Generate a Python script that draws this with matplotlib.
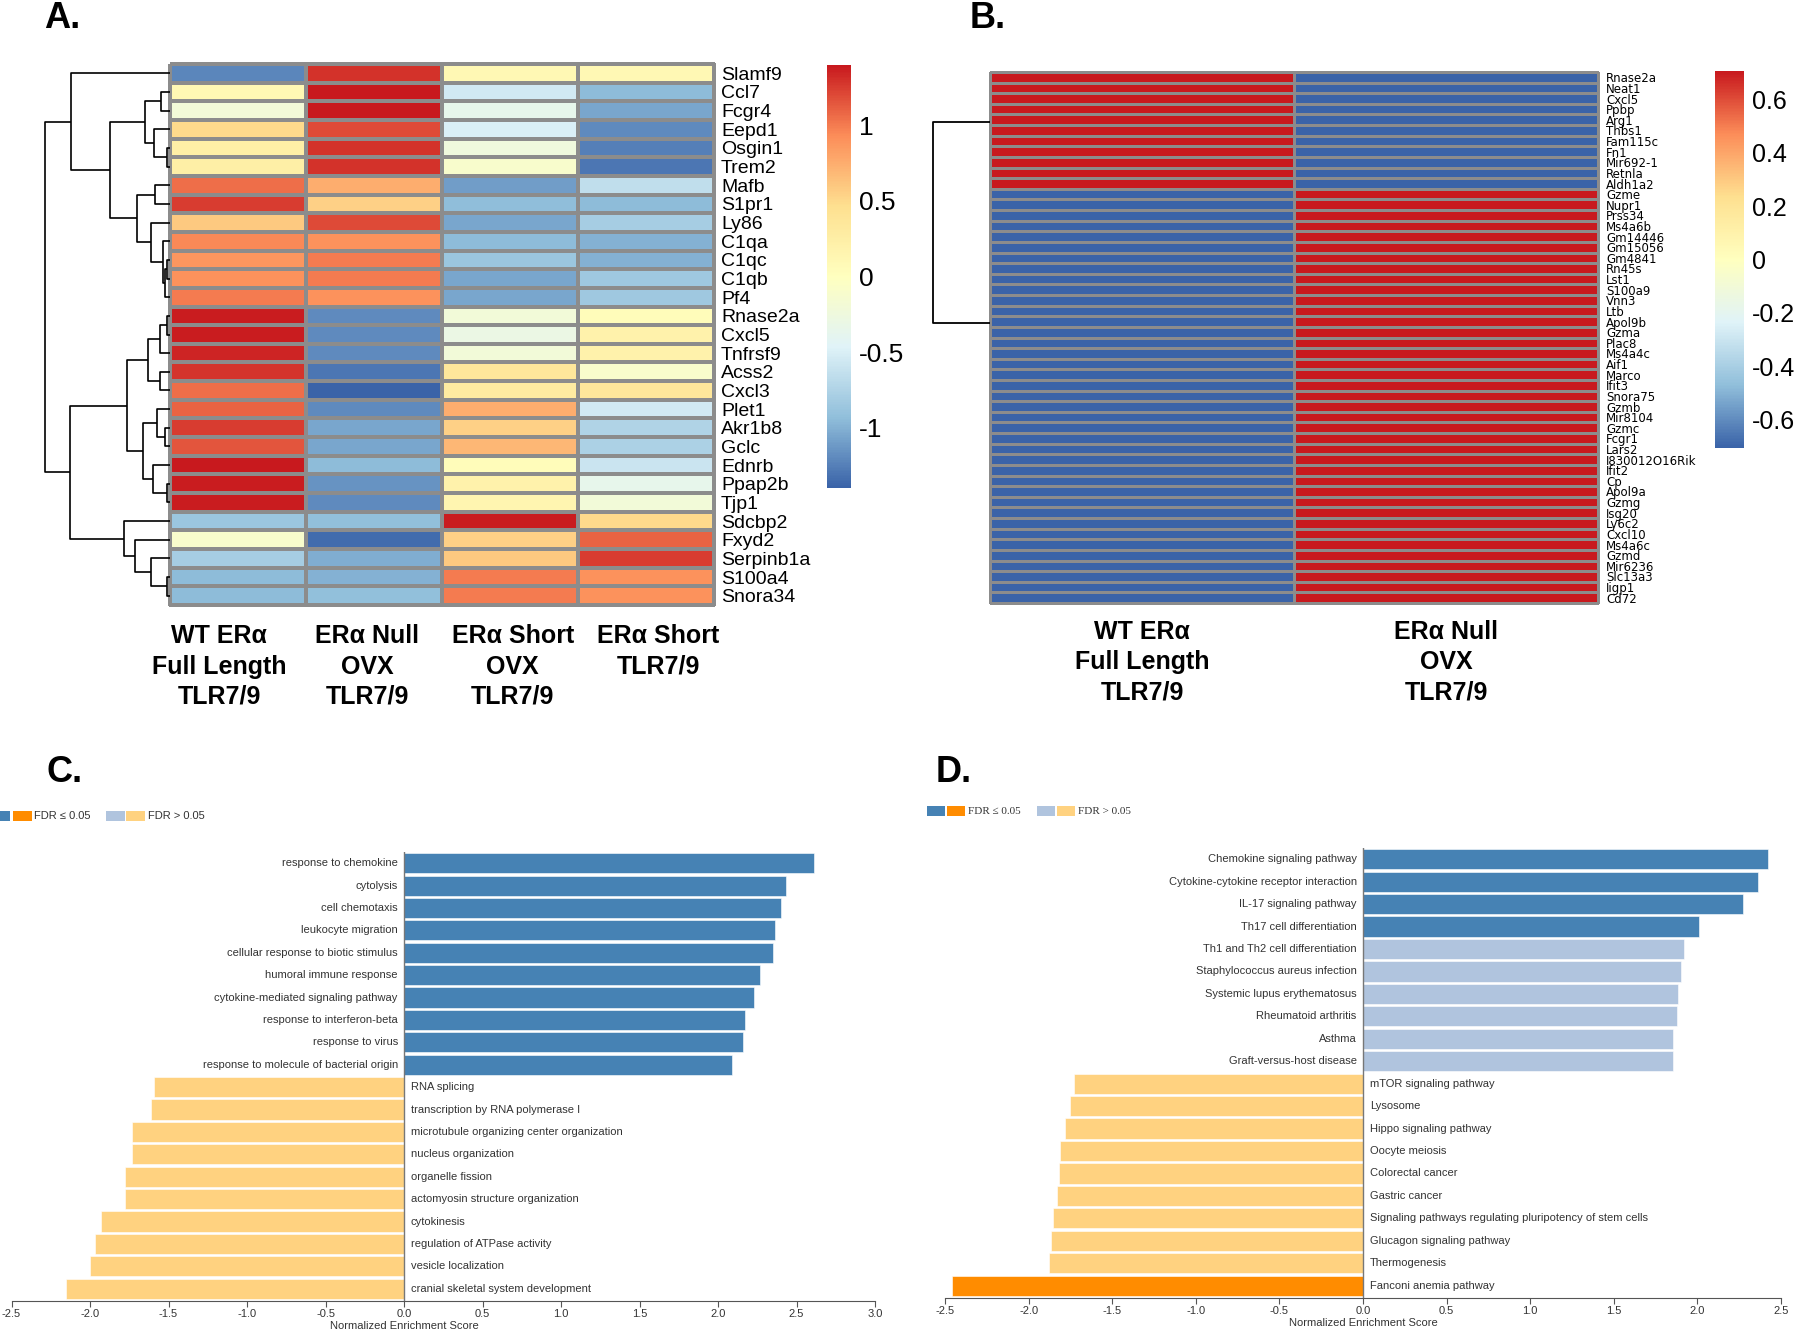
import numpy as np
import matplotlib
matplotlib.use('Agg')
import matplotlib.pyplot as plt
from matplotlib.colors import LinearSegmentedColormap, Normalize
from matplotlib.cm import ScalarMappable
from matplotlib.patches import Rectangle

plt.rcParams['font.family'] = ['Liberation Sans', 'DejaVu Sans']

# ---------------- panel A: row-scaled expression, 4 groups ----------------
genes_a = ['Slamf9', 'Ccl7', 'Fcgr4', 'Eepd1', 'Osgin1', 'Trem2', 'Mafb', 'S1pr1',
           'Ly86', 'C1qa', 'C1qc', 'C1qb', 'Pf4', 'Rnase2a', 'Cxcl5', 'Tnfrsf9',
           'Acss2', 'Cxcl3', 'Plet1', 'Akr1b8', 'Gclc', 'Ednrb', 'Ppap2b', 'Tjp1',
           'Sdcbp2', 'Fxyd2', 'Serpinb1a', 'S100a4', 'Snora34']
groups_a = ['WT ERα\nFull Length\nTLR7/9', 'ERα Null\nOVX\nTLR7/9',
            'ERα Short\nOVX\nTLR7/9', 'ERα Short\nTLR7/9']
wt_a = [-1.22, 0.10, -0.20, 0.50, 0.25, 0.25, 1.05, 1.25, 0.60, 0.95, 0.88, 0.90, 1.00,
        1.38, 1.38, 1.35, 1.28, 1.05, 1.10, 1.25, 1.15, 1.45, 1.38, 1.38,
        -0.87, -0.10, -0.80, -0.95, -0.95]
null_a = [1.30, 1.45, 1.45, 1.20, 1.30, 1.30, 0.75, 0.55, 1.20, 0.90, 1.00, 1.00, 0.90,
          -1.20, -1.20, -1.20, -1.30, -1.45, -1.20, -1.05, -1.05, -0.95, -1.15, -1.20,
          -0.92, -1.35, -1.02, -1.00, -0.92]
sho_a = [0.10, -0.55, -0.35, -0.50, -0.25, -0.10, -1.10, -0.93, -1.05, -0.95, -0.87,
         -1.05, -1.05, -0.20, -0.30, -0.20, 0.35, 0.30, 0.75, 0.55, 0.70, 0.05, 0.20,
         0.15, 1.38, 0.55, 0.60, 1.00, 1.00]
sht_a = [0.10, -0.95, -1.05, -1.20, -1.25, -1.30, -0.65, -0.95, -0.80, -1.00, -1.00,
         -0.85, -0.85, 0.05, 0.20, 0.20, -0.10, 0.35, -0.55, -0.75, -0.77, -0.60,
         -0.35, -0.20, 0.50, 1.10, 1.25, 0.90, 0.90]
# row dendrogram: (child a, child b, merge height); ids >= 29 are earlier merges
merges_a = [(1, 2, 15), (4, 5, 6), (3, 30, 28), (29, 31, 43), (6, 7, 26), (10, 11, 5),
            (34, 12, 8), (9, 35, 12), (8, 36, 33), (33, 37, 58), (32, 38, 105),
            (0, 39, 173), (13, 14, 6), (41, 15, 18), (16, 17, 18), (42, 43, 38),
            (19, 20, 8), (18, 45, 23), (22, 23, 6), (21, 47, 30), (46, 48, 48),
            (44, 49, 76), (27, 28, 6), (26, 51, 33), (25, 52, 61), (24, 53, 80),
            (50, 54, 176), (40, 55, 220)]
cbar_ticks_a = [-1, -0.5, 0, 0.5, 1]

# ---------------- panel B: two groups ----------------
genes_b = ['Rnase2a', 'Neat1', 'Cxcl5', 'Ppbp', 'Arg1', 'Thbs1', 'Fam115c', 'Fn1',
           'Mir692-1', 'Retnla', 'Aldh1a2', 'Gzme', 'Nupr1', 'Prss34', 'Ms4a6b',
           'Gm14446', 'Gm15056', 'Gm4841', 'Rn45s', 'Lst1', 'S100a9', 'Vnn3', 'Ltb',
           'Apol9b', 'Gzma', 'Plac8', 'Ms4a4c', 'Aif1', 'Marco', 'Ifit3', 'Snora75',
           'Gzmb', 'Mir8104', 'Gzmc', 'Fcgr1', 'Lars2', 'I830012O16Rik', 'Ifit2', 'Cp',
           'Apol9a', 'Gzmg', 'Isg20', 'Ly6c2', 'Cxcl10', 'Ms4a6c', 'Gzmd', 'Mir6236',
           'Slc13a3', 'Iigp1', 'Cd72']
higher_in_wt_b = ['Rnase2a', 'Neat1', 'Cxcl5', 'Ppbp', 'Arg1', 'Thbs1', 'Fam115c',
                  'Fn1', 'Mir692-1', 'Retnla', 'Aldh1a2']
groups_b = ['WT ERα\nFull Length\nTLR7/9', 'ERα Null\nOVX\nTLR7/9']
zval_b = 0.7071
branch_pos_b = [4.7, 23.6]
cbar_ticks_b = [-0.6, -0.4, -0.2, 0, 0.2, 0.4, 0.6]

# ---------------- panel C: GO terms ----------------
terms_c = ['response to chemokine', 'cytolysis', 'cell chemotaxis', 'leukocyte migration',
           'cellular response to biotic stimulus', 'humoral immune response',
           'cytokine-mediated signaling pathway', 'response to interferon-beta',
           'response to virus', 'response to molecule of bacterial origin',
           'RNA splicing', 'transcription by RNA polymerase I',
           'microtubule organizing center organization', 'nucleus organization',
           'organelle fission', 'actomyosin structure organization', 'cytokinesis',
           'regulation of ATPase activity', 'vesicle localization',
           'cranial skeletal system development']
nes_c = [2.61, 2.43, 2.40, 2.36, 2.35, 2.27, 2.23, 2.17, 2.16, 2.09,
         -1.595, -1.61, -1.73, -1.73, -1.78, -1.78, -1.93, -1.97, -2.00, -2.15]
sig_c = [True] * 10 + [False] * 10

# ---------------- panel D: KEGG pathways ----------------
terms_d = ['Chemokine signaling pathway', 'Cytokine-cytokine receptor interaction',
           'IL-17 signaling pathway', 'Th17 cell differentiation',
           'Th1 and Th2 cell differentiation', 'Staphylococcus aureus infection',
           'Systemic lupus erythematosus', 'Rheumatoid arthritis', 'Asthma',
           'Graft-versus-host disease', 'mTOR signaling pathway', 'Lysosome',
           'Hippo signaling pathway', 'Oocyte meiosis', 'Colorectal cancer',
           'Gastric cancer', 'Signaling pathways regulating pluripotency of stem cells',
           'Glucagon signaling pathway', 'Thermogenesis', 'Fanconi anemia pathway']
nes_d = [2.42, 2.36, 2.27, 2.01, 1.92, 1.90, 1.885, 1.875, 1.855, 1.855,
         -1.73, -1.755, -1.78, -1.81, -1.82, -1.83, -1.855, -1.865, -1.88, -2.46]
sig_d = [True] * 4 + [False] * 15 + [True]

W, H = 1800, 1330
fig = plt.figure(figsize=(W / 100, H / 100), dpi=100)


def px_axes(x0, y0, x1, y1):
    return fig.add_axes([x0 / W, 1 - y1 / H, (x1 - x0) / W, (y1 - y0) / H])


cmap = LinearSegmentedColormap.from_list(
    'rdylbu', ['#3A63A8', '#91BFDB', '#E0F3F8', '#FFFFBF', '#FEE090', '#FC8D59', '#C8191E'])


def heatmap(ax, z, genes, norm, lw, fs, family, pad):
    m = ax.pcolormesh(np.arange(z.shape[1] + 1), np.arange(z.shape[0] + 1), z, cmap=cmap,
                      norm=norm, edgecolors='#8c8c8c', linewidth=lw)
    m.set_clip_on(False)
    ax.set_xlim(0, z.shape[1])
    ax.set_ylim(z.shape[0], 0)
    ax.set_xticks([])
    ax.yaxis.tick_right()
    ax.set_yticks(np.arange(len(genes)) + 0.5, genes, fontsize=fs, family=family)
    ax.tick_params(axis='y', length=0, pad=pad)
    for s in ax.spines.values():
        s.set_visible(False)


def colorbar(cax, norm, ticks, fs):
    cb = fig.colorbar(ScalarMappable(norm=norm, cmap=cmap), cax=cax, ticks=ticks)
    cb.outline.set_visible(False)
    cb.ax.set_yticklabels(['%g' % t for t in ticks])
    cb.ax.tick_params(length=0, labelsize=fs, pad=6)


def group_labels(ax, xs, labels, dy):
    for x, lab in zip(xs, labels):
        ax.annotate(lab, (x, 0), xycoords=('data', 'axes fraction'), xytext=(0, dy),
                    textcoords='offset points', ha='center', va='top', fontsize=18,
                    fontweight='bold', linespacing=1.32)


# ---- A
z_a = np.column_stack([wt_a, null_a, sho_a, sht_a])
norm_a = Normalize(-1.40, 1.40)
ax_a = px_axes(170, 64, 714, 605)
heatmap(ax_a, z_a, genes_a, norm_a, 1.5, 14, ['Liberation Sans', 'DejaVu Sans'], 5)
group_labels(ax_a, [0.36, 1.45, 2.52, 3.59], groups_a, -14)

ax_da = px_axes(44, 64, 170, 605)
n = len(genes_a)
pos = {i: i + 0.5 for i in range(n)}
hgt = {i: 0.0 for i in range(n)}
for k, (a, b, h) in enumerate(merges_a):
    ax_da.plot([hgt[a], h, h, hgt[b]], [pos[a], pos[a], pos[b], pos[b]],
               color='black', lw=1.2, solid_capstyle='butt')
    pos[n + k] = (pos[a] + pos[b]) / 2
    hgt[n + k] = h
ax_da.set_xlim(221, 0)
ax_da.set_ylim(n, 0)
ax_da.axis('off')

colorbar(px_axes(827, 65, 851, 488), norm_a, cbar_ticks_a, 19)

# ---- B
wt_b = np.array([zval_b if g in higher_in_wt_b else -zval_b for g in genes_b])
z_b = np.column_stack([wt_b, -wt_b])
norm_b = Normalize(-zval_b, zval_b)
ax_b = px_axes(990, 72, 1598, 603)
heatmap(ax_b, z_b, genes_b, norm_b, 1.0, 8.5, ['DejaVu Sans'], 6)
group_labels(ax_b, [0.5, 1.5], groups_b, -12.5)

ax_db = px_axes(930, 72, 990, 603)
ax_db.plot([0, 1, 1, 0], [branch_pos_b[0], branch_pos_b[0], branch_pos_b[1], branch_pos_b[1]],
           color='black', lw=1.3)
ax_db.set_xlim(1.06, 0)
ax_db.set_ylim(len(genes_b), 0)
ax_db.axis('off')

colorbar(px_axes(1715, 71, 1744, 448), norm_b, cbar_ticks_b, 18)


# ---- C / D
def bar_color(v, s):
    if v >= 0:
        return '#4682B4' if s else '#B0C4DE'
    return '#FF8C00' if s else '#FFD280'


def gsea(rect, terms, nes, sig, xlim, ticks):
    ax = px_axes(*rect)
    y = np.arange(len(terms))
    cols = [bar_color(v, s) for v, s in zip(nes, sig)]
    ax.barh(y, nes, height=0.9, color=cols, edgecolor='white', linewidth=0.4)
    ax.set_ylim(len(terms) - 0.45, -0.5)
    ax.set_xlim(*xlim)
    ax.axvline(0, color='#777777', lw=1.0)
    for yi, t, v in zip(y, terms, nes):
        if v > 0:
            ax.annotate(t, (0, yi), xytext=(-4.5, 0), textcoords='offset points',
                        ha='right', va='center', fontsize=8, color='#333333')
        else:
            ax.annotate(t, (0, yi), xytext=(5, 0), textcoords='offset points',
                        ha='left', va='center', fontsize=8, color='#333333')
    for s in ['left', 'top', 'right']:
        ax.spines[s].set_visible(False)
    ax.spines['bottom'].set_color('#555555')
    ax.set_yticks([])
    ax.set_xticks(ticks, ['%.1f' % t for t in ticks])
    ax.tick_params(axis='x', length=4, width=0.8, colors='#555555', labelcolor='#333333',
                   labelsize=8, pad=2)
    ax.set_xlabel('Normalized Enrichment Score', fontsize=8, color='#333333')
    ax.xaxis.set_label_coords((0 - xlim[0]) / (xlim[1] - xlim[0]), -0.044)
    return ax


gsea((11.5, 852, 875, 1301), terms_c, nes_c, sig_c, (-2.5, 3.0), np.arange(-2.5, 3.01, 0.5))
gsea((945, 848, 1781, 1298), terms_d, nes_d, sig_d, (-2.5, 2.5), np.arange(-2.5, 2.51, 0.5))

# ---- overlay: panel letters and legends (pixel coordinates)
ov = fig.add_axes([0, 0, 1, 1])
ov.set_xlim(0, W)
ov.set_ylim(H, 0)
ov.axis('off')
for x, y, s in [(44, 19, 'A.'), (970, 19, 'B.'), (46, 772, 'C.'), (936, 772, 'D.')]:
    ov.text(x, y, s, fontsize=26, fontweight='bold', ha='left', va='center')

for (x0, y0, w, h), c in [((0, 811, 10, 10), '#4682B4'), ((12.6, 811, 19, 10), '#FF8C00'),
                          ((106, 811, 19, 10), '#B0C4DE'), ((126, 811, 19, 10), '#FFD280'),
                          ((927, 806, 18, 10), '#4682B4'), ((947, 806, 18, 10), '#FF8C00'),
                          ((1037, 806, 18, 10), '#B0C4DE'), ((1057, 806, 18, 10), '#FFD280')]:
    ov.add_patch(Rectangle((x0, y0), w, h, color=c, lw=0))
ov.text(34, 816, 'FDR ≤ 0.05', fontsize=8, color='#333333', va='center')
ov.text(148, 816, 'FDR > 0.05', fontsize=8, color='#333333', va='center')
ov.text(968, 811, 'FDR ≤ 0.05', fontsize=8, color='#333333', va='center',
        family=['Liberation Serif', 'DejaVu Serif'])
ov.text(1078, 811, 'FDR > 0.05', fontsize=8, color='#333333', va='center',
        family=['Liberation Serif', 'DejaVu Serif'])

fig.savefig('out.png', dpi=100)
